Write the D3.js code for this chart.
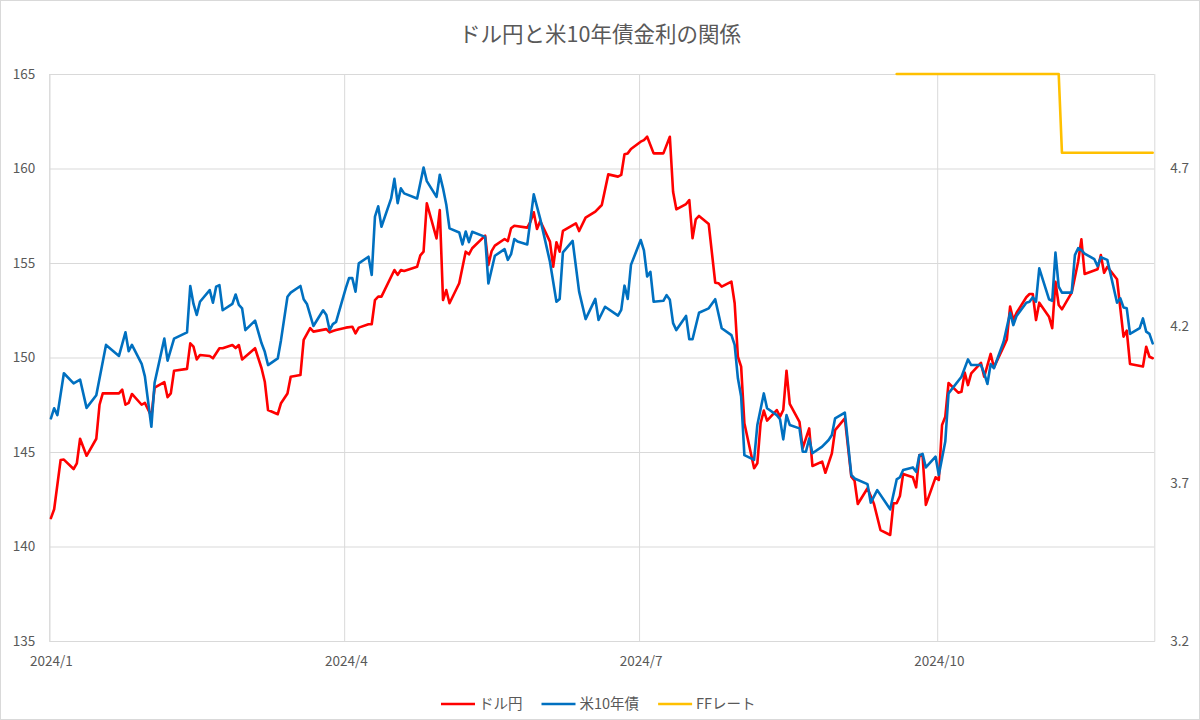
<!DOCTYPE html>
<html>
<head>
<meta charset="utf-8">
<script src="https://cdn.jsdelivr.net/npm/d3@7"></script>
<style>
  body { margin: 0; background: #fff; }
  svg { display: block; font-family: "Noto Sans CJK JP", "Noto Sans", sans-serif; }
</style>
</head>
<body>
<svg id="chart"></svg>
<script>
// ドル円 (left axis)
const usdjpy = [
  ["2024-01-01",141.5],["2024-01-02",141.97],["2024-01-04",144.58],["2024-01-05",144.6],
  ["2024-01-08",144.1],["2024-01-09",144.4],["2024-01-10",145.7],["2024-01-12",144.8],
  ["2024-01-15",145.7],["2024-01-16",147.5],["2024-01-17",148.1],["2024-01-22",148.1],
  ["2024-01-23",148.3],["2024-01-24",147.5],["2024-01-25",147.6],["2024-01-26",148.07],
  ["2024-01-29",147.5],["2024-01-30",147.6],["2024-02-01",146.9],["2024-02-02",148.4],
  ["2024-02-05",148.7],["2024-02-06",147.9],["2024-02-07",148.1],["2024-02-08",149.3],
  ["2024-02-12",149.4],["2024-02-13",150.75],["2024-02-14",150.57],["2024-02-15",149.9],
  ["2024-02-16",150.13],["2024-02-19",150.08],["2024-02-20",149.96],["2024-02-22",150.49],
  ["2024-02-23",150.49],["2024-02-26",150.66],["2024-02-27",150.5],["2024-02-28",150.66],
  ["2024-02-29",149.9],["2024-03-04",150.49],["2024-03-06",149.43],["2024-03-07",148.72],
  ["2024-03-08",147.22],["2024-03-11",147.0],["2024-03-12",147.58],["2024-03-14",148.1],
  ["2024-03-15",148.98],["2024-03-18",149.07],["2024-03-19",150.93],["2024-03-21",151.55],
  ["2024-03-22",151.37],["2024-03-26",151.5],["2024-03-27",151.33],["2024-03-28",151.4],
  ["2024-03-29",151.45],["2024-04-01",151.58],["2024-04-03",151.63],["2024-04-04",151.28],
  ["2024-04-05",151.58],["2024-04-08",151.76],["2024-04-09",151.76],["2024-04-10",153.04],
  ["2024-04-11",153.22],["2024-04-12",153.22],["2024-04-16",154.63],["2024-04-17",154.37],
  ["2024-04-18",154.63],["2024-04-19",154.58],["2024-04-23",154.8],["2024-04-24",155.4],
  ["2024-04-25",155.6],["2024-04-26",158.16],["2024-04-29",156.3],["2024-04-30",157.8],
  ["2024-05-01",153.04],["2024-05-02",153.57],["2024-05-03",152.87],["2024-05-06",153.93],
  ["2024-05-08",155.6],["2024-05-09",155.46],["2024-05-10",155.78],["2024-05-14",156.45],
  ["2024-05-15",154.89],["2024-05-16",155.63],["2024-05-17",155.92],["2024-05-20",156.27],
  ["2024-05-21",156.16],["2024-05-22",156.84],["2024-05-23",156.97],["2024-05-27",156.87],
  ["2024-05-28",157.19],["2024-05-29",157.68],["2024-05-30",156.8],["2024-05-31",157.22],
  ["2024-06-03",156.13],["2024-06-04",154.8],["2024-06-05",156.1],["2024-06-06",155.6],
  ["2024-06-07",156.7],["2024-06-11",157.1],["2024-06-12",156.69],["2024-06-14",157.4],
  ["2024-06-17",157.72],["2024-06-19",158.07],["2024-06-21",159.69],["2024-06-24",159.57],
  ["2024-06-25",159.66],["2024-06-26",160.75],["2024-06-27",160.8],["2024-06-28",161.03],
  ["2024-07-01",161.42],["2024-07-02",161.5],["2024-07-03",161.68],["2024-07-05",160.8],
  ["2024-07-08",160.8],["2024-07-10",161.68],["2024-07-11",158.77],["2024-07-12",157.84],
  ["2024-07-15",158.12],["2024-07-16",158.33],["2024-07-17",156.31],["2024-07-18",157.31],
  ["2024-07-19",157.49],["2024-07-22",157.06],["2024-07-24",153.96],["2024-07-25",153.93],
  ["2024-07-26",153.75],["2024-07-29",154.01],["2024-07-30",152.87],["2024-07-31",150.04],
  ["2024-08-01",149.52],["2024-08-02",146.52],["2024-08-05",144.14],["2024-08-06",144.4],
  ["2024-08-07",146.52],["2024-08-08",147.19],["2024-08-09",146.66],["2024-08-12",147.22],
  ["2024-08-13",146.87],["2024-08-14",147.22],["2024-08-15",149.3],["2024-08-16",147.54],
  ["2024-08-19",146.6],["2024-08-20",145.2],["2024-08-22",146.25],["2024-08-23",144.26],
  ["2024-08-26",144.49],["2024-08-27",143.9],["2024-08-29",144.93],["2024-08-30",146.16],
  ["2024-09-02",146.78],["2024-09-04",143.69],["2024-09-05",143.48],["2024-09-06",142.25],
  ["2024-09-09",143.08],["2024-09-11",142.25],["2024-09-13",140.87],["2024-09-16",140.61],
  ["2024-09-17",142.29],["2024-09-18",142.29],["2024-09-19",142.67],["2024-09-20",143.84],
  ["2024-09-23",143.66],["2024-09-24",143.13],["2024-09-25",144.84],["2024-09-26",144.79],
  ["2024-09-27",142.2],["2024-09-30",143.66],["2024-10-01",143.52],["2024-10-02",146.43],
  ["2024-10-03",146.87],["2024-10-04",148.65],["2024-10-07",148.14],["2024-10-08",148.19],
  ["2024-10-09",149.2],["2024-10-10",148.54],["2024-10-11",149.16],["2024-10-14",149.72],
  ["2024-10-15",148.98],["2024-10-17",150.19],["2024-10-18",149.48],["2024-10-21",150.57],
  ["2024-10-22",150.96],["2024-10-23",152.69],["2024-10-24",151.98],["2024-10-25",152.37],
  ["2024-10-28",153.19],["2024-10-29",153.36],["2024-10-30",153.36],["2024-10-31",151.98],
  ["2024-11-01",152.9],["2024-11-04",152.16],["2024-11-05",151.55],["2024-11-06",154.01],
  ["2024-11-07",152.78],["2024-11-08",152.55],["2024-11-11",153.43],["2024-11-13",155.07],
  ["2024-11-14",156.25],["2024-11-15",154.42],["2024-11-19",154.67],["2024-11-20",155.42],
  ["2024-11-21",154.48],["2024-11-22",154.8],["2024-11-25",154.14],["2024-11-27",151.1],
  ["2024-11-28",151.42],["2024-11-29",149.66],["2024-12-03",149.52],["2024-12-04",150.57],
  ["2024-12-05",150.04],["2024-12-06",149.96]
];

// 米10年債 (right axis)
const ust10y = [
  ["2024-01-01",3.907],["2024-01-02",3.939],["2024-01-03",3.917],["2024-01-05",4.05],
  ["2024-01-08",4.018],["2024-01-10",4.03],["2024-01-12",3.94],["2024-01-15",3.98],
  ["2024-01-18",4.14],["2024-01-22",4.105],["2024-01-24",4.18],["2024-01-25",4.12],
  ["2024-01-26",4.14],["2024-01-29",4.08],["2024-01-30",4.04],["2024-02-01",3.88],
  ["2024-02-02",4.02],["2024-02-05",4.16],["2024-02-06",4.09],["2024-02-08",4.16],
  ["2024-02-12",4.18],["2024-02-13",4.327],["2024-02-14",4.27],["2024-02-15",4.235],
  ["2024-02-16",4.277],["2024-02-19",4.314],["2024-02-20",4.274],["2024-02-21",4.325],
  ["2024-02-22",4.33],["2024-02-23",4.25],["2024-02-26",4.27],["2024-02-27",4.30],
  ["2024-02-28",4.267],["2024-02-29",4.256],["2024-03-01",4.187],["2024-03-04",4.217],
  ["2024-03-06",4.145],["2024-03-07",4.118],["2024-03-08",4.076],["2024-03-11",4.097],
  ["2024-03-12",4.155],["2024-03-14",4.293],["2024-03-15",4.306],["2024-03-18",4.327],
  ["2024-03-19",4.285],["2024-03-20",4.27],["2024-03-22",4.2],["2024-03-25",4.25],
  ["2024-03-26",4.235],["2024-03-27",4.187],["2024-03-28",4.206],["2024-03-29",4.213],
  ["2024-04-01",4.32],["2024-04-02",4.352],["2024-04-03",4.352],["2024-04-04",4.309],
  ["2024-04-05",4.399],["2024-04-08",4.42],["2024-04-09",4.362],["2024-04-10",4.547],
  ["2024-04-11",4.58],["2024-04-12",4.515],["2024-04-15",4.605],["2024-04-16",4.667],
  ["2024-04-17",4.59],["2024-04-18",4.637],["2024-04-19",4.621],["2024-04-23",4.605],
  ["2024-04-25",4.703],["2024-04-26",4.66],["2024-04-29",4.61],["2024-04-30",4.68],
  ["2024-05-01",4.637],["2024-05-02",4.586],["2024-05-03",4.51],["2024-05-06",4.497],
  ["2024-05-07",4.459],["2024-05-08",4.5],["2024-05-09",4.466],["2024-05-10",4.499],
  ["2024-05-14",4.483],["2024-05-15",4.335],["2024-05-17",4.423],["2024-05-20",4.444],
  ["2024-05-21",4.41],["2024-05-22",4.428],["2024-05-23",4.476],["2024-05-24",4.468],
  ["2024-05-27",4.459],["2024-05-29",4.618],["2024-05-31",4.54],["2024-06-03",4.404],
  ["2024-06-05",4.277],["2024-06-06",4.286],["2024-06-07",4.434],["2024-06-10",4.47],
  ["2024-06-12",4.309],["2024-06-14",4.222],["2024-06-17",4.286],["2024-06-18",4.219],
  ["2024-06-20",4.261],["2024-06-24",4.233],["2024-06-25",4.251],["2024-06-26",4.328],
  ["2024-06-27",4.286],["2024-06-28",4.394],["2024-07-01",4.473],["2024-07-02",4.44],
  ["2024-07-03",4.357],["2024-07-04",4.372],["2024-07-05",4.277],["2024-07-08",4.28],
  ["2024-07-09",4.298],["2024-07-10",4.283],["2024-07-11",4.209],["2024-07-12",4.187],
  ["2024-07-15",4.232],["2024-07-16",4.158],["2024-07-17",4.158],["2024-07-19",4.242],
  ["2024-07-22",4.256],["2024-07-24",4.285],["2024-07-26",4.193],["2024-07-29",4.171],
  ["2024-07-30",4.14],["2024-07-31",4.034],["2024-08-01",3.976],["2024-08-02",3.79],
  ["2024-08-05",3.775],["2024-08-06",3.886],["2024-08-08",3.986],["2024-08-09",3.939],
  ["2024-08-12",3.917],["2024-08-13",3.904],["2024-08-14",3.84],["2024-08-15",3.917],
  ["2024-08-16",3.886],["2024-08-19",3.875],["2024-08-20",3.801],["2024-08-21",3.801],
  ["2024-08-22",3.843],["2024-08-23",3.796],["2024-08-26",3.817],["2024-08-28",3.838],
  ["2024-08-29",3.854],["2024-08-30",3.907],["2024-09-02",3.925],["2024-09-04",3.727],
  ["2024-09-05",3.716],["2024-09-09",3.698],["2024-09-10",3.639],["2024-09-12",3.679],
  ["2024-09-16",3.618],["2024-09-18",3.713],["2024-09-19",3.72],["2024-09-20",3.743],
  ["2024-09-23",3.751],["2024-09-24",3.737],["2024-09-25",3.79],["2024-09-26",3.794],
  ["2024-09-27",3.751],["2024-09-30",3.785],["2024-10-01",3.727],["2024-10-03",3.833],
  ["2024-10-04",3.986],["2024-10-08",4.039],["2024-10-10",4.094],["2024-10-11",4.076],
  ["2024-10-14",4.076],["2024-10-15",4.05],["2024-10-16",4.016],["2024-10-17",4.079],
  ["2024-10-18",4.066],["2024-10-21",4.15],["2024-10-22",4.196],["2024-10-23",4.242],
  ["2024-10-24",4.203],["2024-10-25",4.232],["2024-10-28",4.274],["2024-10-29",4.277],
  ["2024-10-30",4.291],["2024-10-31",4.277],["2024-11-01",4.383],["2024-11-04",4.285],
  ["2024-11-05",4.28],["2024-11-06",4.433],["2024-11-07",4.325],["2024-11-08",4.306],
  ["2024-11-11",4.306],["2024-11-12",4.425],["2024-11-13",4.447],["2024-11-14",4.441],
  ["2024-11-15",4.43],["2024-11-18",4.412],["2024-11-19",4.39],["2024-11-20",4.418],
  ["2024-11-22",4.41],["2024-11-25",4.274],["2024-11-26",4.288],["2024-11-27",4.259],
  ["2024-11-28",4.256],["2024-11-29",4.175],["2024-12-02",4.193],["2024-12-03",4.224],
  ["2024-12-04",4.182],["2024-12-05",4.175],["2024-12-06",4.145]
];

// FFレート (right axis)
const ffRate = [
  ["2024-09-18",5.0],["2024-11-07",5.0],["2024-11-08",4.75],["2024-12-06",4.75]
];

const seriesNames = ["ドル円", "米10年債", "FFレート"];
const seriesColors = ["#ff0000", "#0070c0", "#ffc000"];
const leftTicks = [135, 140, 145, 150, 155, 160, 165];
const rightTicks = [3.2, 3.7, 4.2, 4.7];
const quarterTicks = ["2024-01-01", "2024-04-01", "2024-07-01", "2024-10-01"];
const xRange = ["2024-01-01", "2024-12-07"];
const chartTitle = "ドル円と米10年債金利の関係";

class DualAxisChart {

    constructor(_config) {
        this.config = {
            parentElement: _config.parentElement,
            containerWidth: _config.containerWidth || 1200,
            containerHeight: _config.containerHeight || 720,
            margin: { top: 74, bottom: 79, right: 45.7, left: 49.3 }
        }
        this.initVis();
    }

    initVis() {
        let vis = this;
        const parse = d3.timeParse("%Y-%m-%d");
        // points sit in the middle of their day slot, like a date axis in Excel
        const mid = s => d3.timeHour.offset(parse(s), 12);

        vis.width = vis.config.containerWidth - vis.config.margin.left - vis.config.margin.right;
        vis.height = vis.config.containerHeight - vis.config.margin.top - vis.config.margin.bottom;

        vis.svg = d3.select(vis.config.parentElement)
            .attr("width", vis.config.containerWidth)
            .attr("height", vis.config.containerHeight);

        // outer border
        vis.svg.append("rect")
            .attr("x", 0.5).attr("y", 0.5)
            .attr("width", vis.config.containerWidth - 1)
            .attr("height", vis.config.containerHeight - 1)
            .attr("fill", "#fff")
            .attr("stroke", "#d9d9d9");

        vis.svg.append("text")
            .attr("x", vis.config.containerWidth / 2)
            .attr("y", 41.5)
            .attr("text-anchor", "middle")
            .attr("font-size", "21.5px")
            .attr("fill", "#595959")
            .text(chartTitle);

        vis.g = vis.svg.append("g")
            .attr("transform", "translate(" + vis.config.margin.left + "," + vis.config.margin.top + ")");

        vis.xScale = d3.scaleTime()
            .domain(xRange.map(parse))
            .range([0, vis.width]);
        vis.yLeft = d3.scaleLinear()
            .domain(d3.extent(leftTicks))
            .range([vis.height, 0]);
        vis.yRight = d3.scaleLinear()
            .domain([3.2, 5.0])
            .range([vis.height, 0]);

        // horizontal gridlines
        vis.g.append("g")
            .attr("class", "grid")
            .call(d3.axisLeft(vis.yLeft).tickValues(leftTicks).tickSize(-vis.width).tickFormat(""))
            .call(g => g.select(".domain").remove())
            .selectAll("line")
            .attr("stroke", "#d9d9d9");

        // vertical gridlines at quarter starts
        vis.g.append("g")
            .attr("class", "grid")
            .attr("transform", "translate(0," + vis.height + ")")
            .call(d3.axisBottom(vis.xScale).tickValues(quarterTicks.map(parse)).tickSize(-vis.height).tickFormat(""))
            .call(g => g.select(".domain").attr("stroke", "#d9d9d9"))
            .selectAll("line")
            .attr("stroke", "#d9d9d9");

        const tickFont = g => g.selectAll("text")
            .attr("fill", "#595959")
            .attr("font-size", "13.5px")
            .attr("font-family", "\"Noto Sans CJK JP\", sans-serif");

        vis.g.append("g")
            .call(d3.axisLeft(vis.yLeft).tickValues(leftTicks).tickSize(0).tickPadding(14))
            .call(g => g.select(".domain").remove())
            .call(tickFont);

        vis.g.append("g")
            .attr("transform", "translate(" + vis.width + ",0)")
            .call(d3.axisRight(vis.yRight).tickValues(rightTicks).tickSize(0).tickPadding(16)
                .tickFormat(d3.format(".1f")))
            .call(g => g.select(".domain").remove())
            .call(tickFont);

        vis.g.append("g")
            .attr("transform", "translate(0," + vis.height + ")")
            .call(d3.axisBottom(vis.xScale).tickValues(quarterTicks.map(mid)).tickSize(0).tickPadding(15)
                .tickFormat(d3.timeFormat("%Y/%-m")))
            .call(g => g.select(".domain").remove())
            .call(tickFont);

        const lineLeft = d3.line()
            .x(d => vis.xScale(mid(d[0])))
            .y(d => vis.yLeft(d[1]));
        const lineRight = d3.line()
            .x(d => vis.xScale(mid(d[0])))
            .y(d => vis.yRight(d[1]));

        const series = [
            { data: usdjpy, line: lineLeft },
            { data: ust10y, line: lineRight },
            { data: ffRate, line: lineRight }
        ];

        series.forEach((s, i) => {
            vis.g.append("path")
                .datum(s.data)
                .attr("fill", "none")
                .attr("stroke", seriesColors[i])
                .attr("stroke-width", 2.6)
                .attr("stroke-linejoin", "round")
                .attr("stroke-linecap", "round")
                .attr("d", s.line);
        });

        // legend along the bottom
        let legend = vis.svg.append("g").attr("transform", "translate(441,704)");
        let lx = 0;
        seriesNames.forEach((name, i) => {
            legend.append("line")
                .attr("x1", lx).attr("x2", lx + 34)
                .attr("y1", 0).attr("y2", 0)
                .attr("stroke", seriesColors[i])
                .attr("stroke-width", 2.6);
            let t = legend.append("text")
                .attr("x", lx + 38)
                .attr("y", 5)
                .attr("font-size", "14.5px")
                .attr("fill", "#595959")
                .text(name);
            lx += 38 + t.node().getComputedTextLength() + 19;
        });
    }
}

new DualAxisChart({ parentElement: "#chart", containerWidth: 1200, containerHeight: 720 });
</script>
</body>
</html>
